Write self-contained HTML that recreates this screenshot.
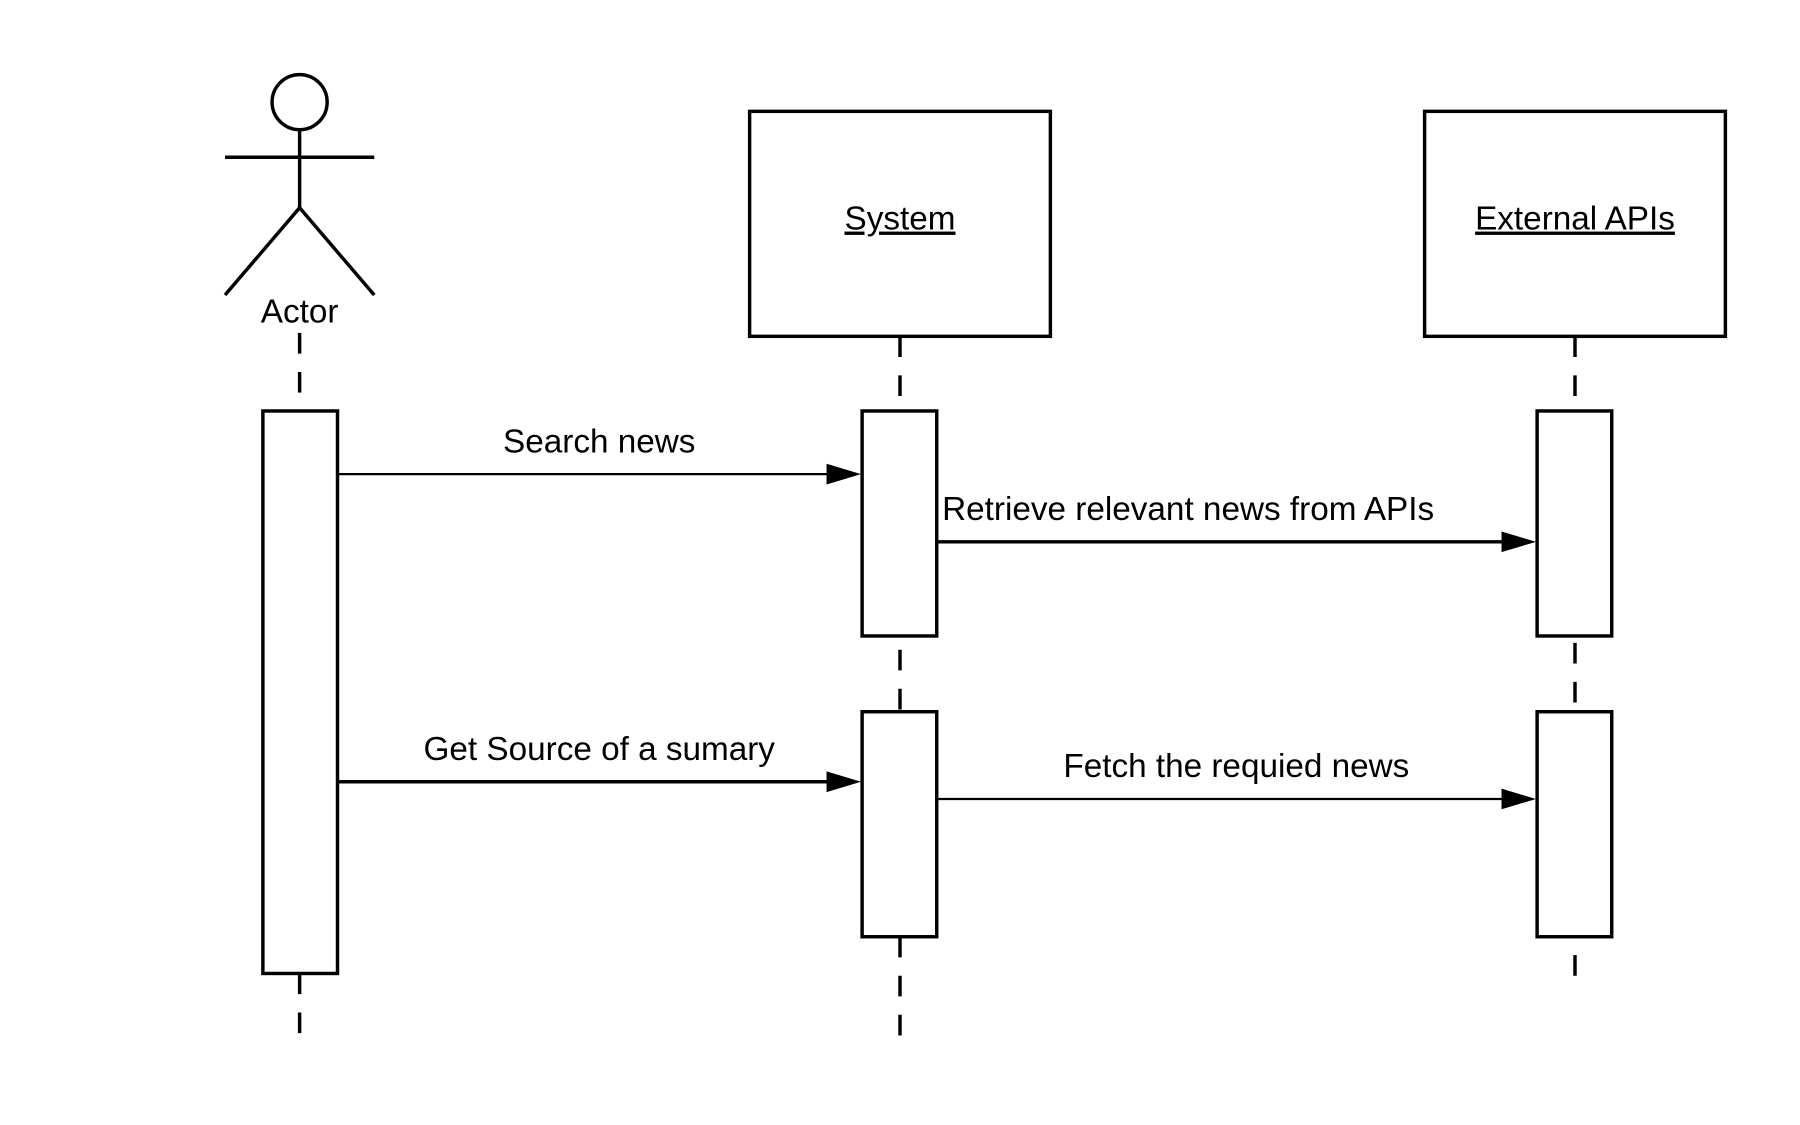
<!DOCTYPE html>
<html><head><style>html,body{margin:0;padding:0;background:#fff;}svg{display:block}</style></head>
<body>
<svg width="1800" height="1125" viewBox="0 0 1568 980" preserveAspectRatio="none" xmlns="http://www.w3.org/2000/svg" font-family="Liberation Sans, sans-serif">
<rect width="1568" height="980" fill="#fff"/>
<g stroke="#000" stroke-width="3" fill="none">
<circle cx="261" cy="89" r="24"/>
<line x1="261" y1="113" x2="261" y2="181"/>
<line x1="196" y1="137" x2="326" y2="137"/>
<line x1="261" y1="181" x2="196" y2="257"/>
<line x1="261" y1="181" x2="326" y2="257"/>
<rect x="653" y="97" width="262" height="196"/>
<rect x="1241" y="97" width="262" height="196"/>
<g stroke-dasharray="18,16">
<line x1="261" y1="290" x2="261" y2="358"/>
<line x1="261" y1="848" x2="261" y2="915"/>
<line x1="784" y1="293" x2="784" y2="358"/>
<line x1="784" y1="566" x2="784" y2="620"/>
<line x1="784" y1="816" x2="784" y2="915"/>
<line x1="1372" y1="293" x2="1372" y2="358"/>
<line x1="1372" y1="560" x2="1372" y2="620"/>
<line x1="1372" y1="832" x2="1372" y2="850"/>
</g>
<rect x="229" y="358" width="65" height="490" fill="#fff"/>
<rect x="751" y="358" width="65" height="196" fill="#fff"/>
<rect x="751" y="620" width="65" height="196" fill="#fff"/>
<rect x="1339" y="358" width="65" height="196" fill="#fff"/>
<rect x="1339" y="620" width="65" height="196" fill="#fff"/>
<line x1="294" y1="413" x2="722" y2="413" stroke-width="2"/>
<line x1="816" y1="472" x2="1310" y2="472"/>
<line x1="294" y1="681" x2="722" y2="681"/>
<line x1="816" y1="696" x2="1310" y2="696" stroke-width="2"/>
</g>
<g fill="#000">
<polygon points="750,413 720,404 720,422"/>
<polygon points="1338,472 1308,463 1308,481"/>
<polygon points="750,681 720,672 720,690"/>
<polygon points="1338,696 1308,687 1308,705"/>
</g>
<g font-size="29" fill="#000" text-anchor="middle">
<text x="261" y="281">Actor</text>
<text x="784" y="200" text-decoration="underline">System</text>
<text x="1372" y="200" text-decoration="underline">External APIs</text>
<text x="522" y="394">Search news</text>
<text x="1035" y="453">Retrieve relevant news from APIs</text>
<text x="522" y="662">Get Source of a sumary</text>
<text x="1077" y="677">Fetch the requied news</text>
</g>
</svg>
</body></html>
